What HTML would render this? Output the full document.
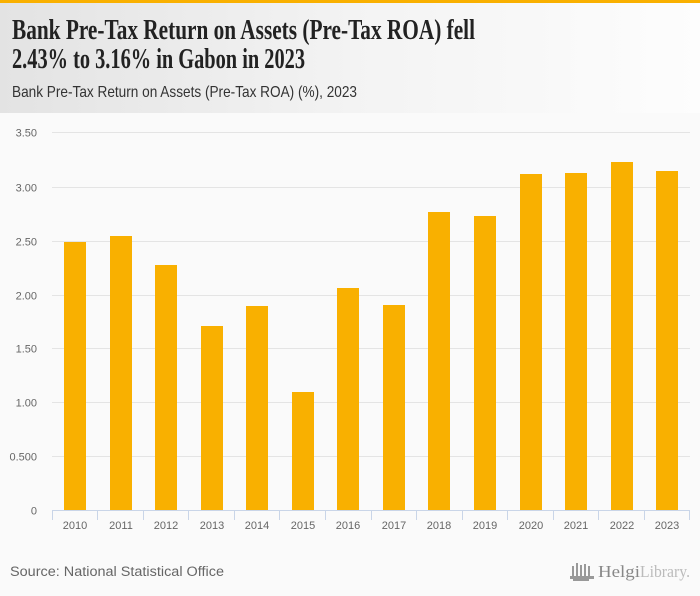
<!DOCTYPE html>
<html>
<head>
<meta charset="utf-8">
<style>
html,body{margin:0;padding:0;background:#fafafa;}
svg{display:block;}
</style>
</head>
<body>
<svg width="700" height="596" viewBox="0 0 700 596" xmlns="http://www.w3.org/2000/svg">
  <defs>
    <linearGradient id="hg" x1="0" y1="0" x2="1" y2="0">
      <stop offset="0" stop-color="#e3e3e3"/>
      <stop offset="0.5" stop-color="#f3f3f3"/>
      <stop offset="1" stop-color="#fdfdfd"/>
    </linearGradient>
  </defs>
  <rect x="0" y="0" width="700" height="596" fill="#fafafa"/>
  <rect x="0" y="0" width="700" height="113" fill="url(#hg)"/>
  <rect x="0" y="0" width="700" height="3" fill="#f9b000"/>

  <text x="12" y="39" font-family="Liberation Serif, serif" font-weight="bold" font-size="28" fill="#222" textLength="463" lengthAdjust="spacingAndGlyphs">Bank Pre-Tax Return on Assets (Pre-Tax ROA) fell</text>
  <text x="12" y="68" font-family="Liberation Serif, serif" font-weight="bold" font-size="28" fill="#222" textLength="293" lengthAdjust="spacingAndGlyphs">2.43% to 3.16% in Gabon in 2023</text>
  <text x="12" y="97" font-family="Liberation Sans, sans-serif" font-size="16" fill="#333" textLength="345" lengthAdjust="spacingAndGlyphs">Bank Pre-Tax Return on Assets (Pre-Tax ROA) (%), 2023</text>

  <!-- gridlines -->
  <g stroke="#e4e4e4" stroke-width="1">
    <line x1="52" y1="132.5" x2="690" y2="132.5"/>
    <line x1="52" y1="187.5" x2="690" y2="187.5"/>
    <line x1="52" y1="241.5" x2="690" y2="241.5"/>
    <line x1="52" y1="295.5" x2="690" y2="295.5"/>
    <line x1="52" y1="348.5" x2="690" y2="348.5"/>
    <line x1="52" y1="402.5" x2="690" y2="402.5"/>
    <line x1="52" y1="456.5" x2="690" y2="456.5"/>
  </g>

  <!-- y labels -->
  <g font-family="Liberation Sans, sans-serif" font-size="11" fill="#666" text-anchor="end">
    <text x="37" y="136.5">3.50</text>
    <text x="37" y="191.5">3.00</text>
    <text x="37" y="245.5">2.50</text>
    <text x="37" y="299.5">2.00</text>
    <text x="37" y="352.5">1.50</text>
    <text x="37" y="406.5">1.00</text>
    <text x="37" y="460.5">0.500</text>
    <text x="37" y="514.5">0</text>
  </g>

  <!-- bars -->
  <g fill="#f9b000">
    <rect x="64" y="242" width="22" height="268"/>
    <rect x="110" y="236" width="22" height="274"/>
    <rect x="155" y="265" width="22" height="245"/>
    <rect x="201" y="326" width="22" height="184"/>
    <rect x="246" y="306" width="22" height="204"/>
    <rect x="292" y="392" width="22" height="118"/>
    <rect x="337" y="288" width="22" height="222"/>
    <rect x="383" y="305" width="22" height="205"/>
    <rect x="428" y="212" width="22" height="298"/>
    <rect x="474" y="216" width="22" height="294"/>
    <rect x="520" y="174" width="22" height="336"/>
    <rect x="565" y="173" width="22" height="337"/>
    <rect x="611" y="162" width="22" height="348"/>
    <rect x="656" y="171" width="22" height="339"/>
  </g>

  <!-- x axis -->
  <g stroke="#c9d5e8" stroke-width="1">
    <line x1="52" y1="510.5" x2="690" y2="510.5"/>
    <line x1="52.5" y1="510" x2="52.5" y2="520"/>
    <line x1="97.5" y1="510" x2="97.5" y2="520"/>
    <line x1="143.5" y1="510" x2="143.5" y2="520"/>
    <line x1="188.5" y1="510" x2="188.5" y2="520"/>
    <line x1="234.5" y1="510" x2="234.5" y2="520"/>
    <line x1="279.5" y1="510" x2="279.5" y2="520"/>
    <line x1="325.5" y1="510" x2="325.5" y2="520"/>
    <line x1="371.5" y1="510" x2="371.5" y2="520"/>
    <line x1="416.5" y1="510" x2="416.5" y2="520"/>
    <line x1="462.5" y1="510" x2="462.5" y2="520"/>
    <line x1="507.5" y1="510" x2="507.5" y2="520"/>
    <line x1="553.5" y1="510" x2="553.5" y2="520"/>
    <line x1="598.5" y1="510" x2="598.5" y2="520"/>
    <line x1="644.5" y1="510" x2="644.5" y2="520"/>
    <line x1="689.5" y1="510" x2="689.5" y2="520"/>
  </g>

  <g font-family="Liberation Sans, sans-serif" font-size="11" fill="#666" text-anchor="middle">
    <text x="75" y="529">2010</text>
    <text x="121" y="529">2011</text>
    <text x="166" y="529">2012</text>
    <text x="212" y="529">2013</text>
    <text x="257" y="529">2014</text>
    <text x="303" y="529">2015</text>
    <text x="348" y="529">2016</text>
    <text x="394" y="529">2017</text>
    <text x="439" y="529">2018</text>
    <text x="485" y="529">2019</text>
    <text x="531" y="529">2020</text>
    <text x="576" y="529">2021</text>
    <text x="622" y="529">2022</text>
    <text x="667" y="529">2023</text>
  </g>

  <text x="10" y="576" font-family="Liberation Sans, sans-serif" font-size="13.5" fill="#666" textLength="214" lengthAdjust="spacingAndGlyphs">Source: National Statistical Office</text>

  <!-- logo -->
  <g fill="#999">
    <rect x="572" y="566" width="2" height="10"/>
    <rect x="576" y="563" width="2" height="13"/>
    <rect x="580" y="565" width="2" height="11"/>
    <rect x="584" y="564" width="2" height="12"/>
    <rect x="588" y="566" width="2" height="10"/>
    <rect x="570" y="576" width="24" height="3"/>
    <rect x="573" y="579" width="16" height="2"/>
  </g>
  <text x="598" y="577" font-family="Liberation Serif, serif" font-size="17" fill="#888" textLength="42" lengthAdjust="spacingAndGlyphs">Helgi</text>
  <text x="640" y="577" font-family="Liberation Serif, serif" font-size="17" fill="#bbb" textLength="50" lengthAdjust="spacingAndGlyphs">Library.</text>
</svg>
</body>
</html>
